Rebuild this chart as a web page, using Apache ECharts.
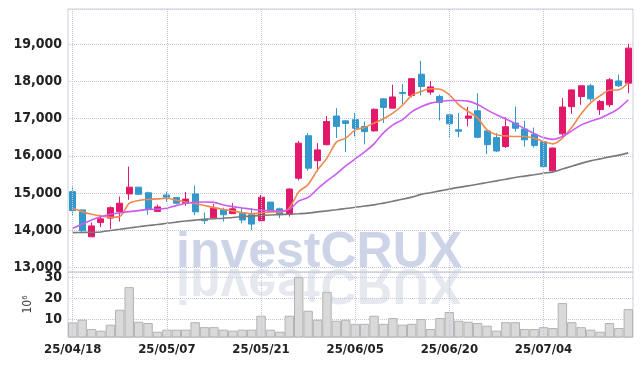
<!DOCTYPE html>
<html>
<head>
<meta charset="utf-8">
<script src="https://cdn.jsdelivr.net/npm/echarts@6/dist/echarts.min.js"></script>
<style>
html, body { margin: 0; padding: 0; background: #fff; }
#chart { width: 642px; height: 366px; }
</style>
</head>
<body>
<div id="chart"></div>
<script>
// trading days
const dates = [
  '25/04/18', '25/04/21', '25/04/22', '25/04/23', '25/04/24', '25/04/25', '25/04/28', '25/04/29', '25/04/30', '25/05/02',
  '25/05/07', '25/05/08', '25/05/09', '25/05/12', '25/05/13', '25/05/14', '25/05/15', '25/05/16', '25/05/19', '25/05/20',
  '25/05/21', '25/05/22', '25/05/23', '25/05/26', '25/05/27', '25/05/28', '25/05/29', '25/05/30', '25/06/02', '25/06/04',
  '25/06/05', '25/06/09', '25/06/10', '25/06/11', '25/06/12', '25/06/13', '25/06/16', '25/06/17', '25/06/18', '25/06/19',
  '25/06/20', '25/06/23', '25/06/24', '25/06/25', '25/06/26', '25/06/27', '25/06/30', '25/07/01', '25/07/02', '25/07/03',
  '25/07/04', '25/07/07', '25/07/08', '25/07/09', '25/07/10', '25/07/11', '25/07/14', '25/07/15', '25/07/16', '25/07/17'
]
const opens = [
  15040, 14550, 13830, 14210, 14330, 14500, 14980, 15160, 15010, 14510,
  14950, 14880, 14730, 14980, 14300, 14340, 14550, 14450, 14460, 14420,
  14260, 14760, 14580, 14430, 15400, 16540, 15870, 16300, 17070, 16940,
  16970, 16790, 16670, 17530, 17280, 17700, 17620, 18190, 17710, 17590,
  17100, 16700, 17010, 17210, 16670, 16490, 16250, 16880, 16720, 16580,
  16380, 15600, 16590, 17320, 17590, 17880, 17240, 17370, 18010, 17950
]
const closes = [
  14530, 13990, 14120, 14310, 14610, 14730, 15160, 14970, 14570, 14630,
  14890, 14730, 14840, 14500, 14260, 14600, 14420, 14580, 14280, 14170,
  14890, 14500, 14420, 15110, 16340, 15670, 16160, 16920, 16790, 16870,
  16740, 16650, 17250, 17300, 17580, 17670, 18070, 17860, 17850, 17430,
  16860, 16660, 17070, 16500, 16300, 16130, 16780, 16740, 16430, 16280,
  15710, 16210, 17310, 17770, 17880, 17530, 17460, 18040, 17880, 18890
]
const lows = [
  14400, 13920, 13820, 14090, 14040, 14240, 14820, 14950, 14420, 14510,
  14770, 14700, 14660, 14410, 14170, 14340, 14240, 14450, 14190, 14010,
  14250, 14500, 14330, 14370, 15340, 15600, 15580, 16280, 16480, 16100,
  16520, 16310, 16650, 16880, 17270, 17390, 17570, 17620, 17640, 16950,
  16500, 16500, 16790, 16470, 16050, 16100, 16210, 16650, 16250, 16220,
  15700, 15600, 16540, 17130, 17370, 17460, 17100, 17310, 17850, 17680
]
const highs = [
  15180, 14550, 14210, 14420, 14640, 14910, 15710, 15160, 15040, 14690,
  15040, 14890, 15030, 15200, 14480, 14710, 14610, 14730, 14600, 14600,
  14950, 14760, 14610, 15130, 16400, 16610, 16340, 17070, 17280, 16950,
  17150, 16920, 17270, 17540, 17910, 17930, 18090, 18550, 18010, 17640,
  17110, 17150, 17310, 17680, 16680, 16610, 17040, 17320, 16940, 16760,
  16390, 16220, 17550, 17780, 17890, 17930, 17500, 18090, 18180, 19010
]
// moving averages as drawn
const maShort = [
  14595, 14504, 14434, 14388, 14353, 14375, 14724, 14804, 14831, 14845,
  14864, 14810, 14764, 14724, 14670, 14611, 14563, 14522, 14477, 14450,
  14469, 14496, 14496, 14603, 15033, 15234, 15624, 15938, 16368, 16475,
  16698, 16760, 16878, 16994, 17147, 17351, 17619, 17727, 17799, 17786,
  17638, 17370, 17190, 17012, 16698, 16564, 16537, 16518, 16518, 16475,
  16384, 16322, 16475, 16765, 17128, 17423, 17611, 17759, 17772, 17969
]
const maMid = [
  14058, 14165, 14281, 14369, 14434, 14469, 14504, 14530, 14563, 14568,
  14595, 14665, 14729, 14756, 14764, 14751, 14684, 14638, 14603, 14568,
  14541, 14530, 14522, 14563, 14791, 14885, 15113, 15328, 15516, 15731,
  15919, 16107, 16322, 16617, 16832, 16967, 17182, 17316, 17415, 17458,
  17485, 17485, 17469, 17378, 17235, 17101, 16988, 16865, 16730, 16599,
  16489, 16443, 16518, 16671, 16832, 16926, 17012, 17128, 17276, 17504
]
const maLong = [
  13940, 13945, 13950, 13958, 13999, 14031, 14066, 14098, 14130, 14157,
  14192, 14222, 14251, 14275, 14297, 14313, 14326, 14348, 14367, 14388,
  14401, 14415, 14426, 14434, 14447, 14463, 14496, 14525, 14555, 14587,
  14619, 14654, 14684, 14732, 14783, 14834, 14893, 14966, 15011, 15060,
  15108, 15154, 15194, 15240, 15283, 15328, 15374, 15420, 15457, 15495,
  15535, 15570, 15645, 15723, 15798, 15865, 15919, 15973, 16019, 16080
]
// volume, millions of shares
const volume = [
  8.4, 9.7, 5.2, 4.4, 7.3, 14.5, 25.4, 8.7, 8.1, 3.9,
  4.9, 4.9, 4.9, 8.5, 6.1, 6.1, 4.9, 4.4, 4.9, 4.9,
  11.6, 4.9, 3.9, 11.6, 30.2, 14.0, 9.7, 23.1, 9.2, 9.7,
  7.7, 7.7, 11.6, 7.7, 10.5, 7.3, 7.7, 10.0, 5.2, 10.5,
  13.4, 9.2, 8.7, 8.1, 6.8, 4.4, 8.5, 8.5, 5.2, 5.2,
  6.1, 5.7, 17.7, 8.5, 6.1, 4.9, 3.9, 8.1, 5.7, 14.8
]

const candleData = opens.map((o, i) => [o, closes[i], lows[i], highs[i]])
const markDates = dates.filter((d, i) => i % 10 === 0)

const gridLine = { type: 'dotted', color: '#c3c7da', width: 1 }
const labelFont = '"Liberation Sans Narrow", "DejaVu Sans Condensed", "Roboto", sans-serif'
const markFont = 'bold 50px "Liberation Sans", Arial, sans-serif'
const vLines = {
  silent: true,
  symbol: 'none',
  label: { show: false },
  lineStyle: gridLine,
  data: markDates.map(d => ({ xAxis: d }))
}

const chart = echarts.init(document.getElementById('chart'))
chart.setOption({
  animation: false,
  backgroundColor: '#fff',
  graphic: {
    elements: [
      {
        type: 'text',
        x: 176,
        y: 268,
        z: -10,
        style: {
          text: 'investCRUX',
          x: 0,
          y: 10,
          font: markFont,
          fill: '#ced4e8',
          verticalAlign: 'bottom'
        }
      },
      {
        type: 'text',
        x: 176,
        y: 268,
        scaleY: -1,
        z: -10,
        style: {
          text: 'investCRUX',
          x: 0,
          y: 10,
          font: markFont,
          fill: '#e6e8ef',
          verticalAlign: 'bottom'
        }
      }
    ]
  },
  grid: [
    { left: 68, right: 9, top: 9, height: 263, show: true, borderColor: '#cfd1da', borderWidth: 1 },
    { left: 68, right: 9, top: 272, height: 65, show: true, borderColor: '#cfd1da', borderWidth: 1 }
  ],
  xAxis: [
    {
      type: 'category',
      gridIndex: 0,
      data: dates,
      axisLine: { show: false },
      axisTick: { show: false },
      axisLabel: { show: false },
      splitLine: { show: false }
    },
    {
      type: 'category',
      gridIndex: 1,
      data: dates,
      axisLine: { show: false },
      axisTick: { show: false },
      splitLine: { show: false },
      axisLabel: {
        interval: 9,
        margin: 6,
        color: '#222',
        fontSize: 13,
        fontWeight: 'bold',
        fontFamily: labelFont
      }
    }
  ],
  yAxis: [
    {
      type: 'value',
      gridIndex: 0,
      min: 12884,
      max: 19940,
      splitNumber: 7,
      axisLine: { show: false },
      axisTick: { show: false },
      splitLine: { show: true, lineStyle: gridLine },
      axisLabel: {
        showMinLabel: false,
        showMaxLabel: false,
        margin: 6,
        color: '#222',
        fontSize: 14,
        fontWeight: 'bold',
        fontFamily: labelFont,
        formatter: (val) => echarts.format.addCommas(val)
      }
    },
    {
      type: 'value',
      gridIndex: 1,
      min: 1.35,
      max: 32.7,
      splitNumber: 3,
      name: '10⁶',
      nameLocation: 'middle',
      nameRotate: 90,
      nameGap: 33,
      nameTextStyle: { color: '#444', fontSize: 12, fontFamily: labelFont },
      axisLine: { show: false },
      axisTick: { show: false },
      splitLine: { show: true, lineStyle: gridLine },
      axisLabel: {
        showMinLabel: false,
        showMaxLabel: false,
        margin: 6,
        color: '#222',
        fontSize: 14,
        fontWeight: 'bold',
        fontFamily: labelFont
      }
    }
  ],
  series: [
    {
      name: 'price',
      type: 'candlestick',
      xAxisIndex: 0,
      yAxisIndex: 0,
      data: candleData,
      barWidth: 6.5,
      itemStyle: {
        color: '#e2196b',
        color0: '#3398cc',
        borderColor: '#e2196b',
        borderColor0: '#3398cc',
        borderWidth: 1
      },
      markLine: vLines
    },
    {
      name: 'MA5',
      type: 'line',
      xAxisIndex: 0,
      yAxisIndex: 0,
      data: maShort,
      smooth: 0.3,
      showSymbol: false,
      lineStyle: { color: '#f0894d', width: 1.6 }
    },
    {
      name: 'MA10',
      type: 'line',
      xAxisIndex: 0,
      yAxisIndex: 0,
      data: maMid,
      smooth: 0.3,
      showSymbol: false,
      lineStyle: { color: '#cc5cf0', width: 1.6 }
    },
    {
      name: 'MA60',
      type: 'line',
      xAxisIndex: 0,
      yAxisIndex: 0,
      data: maLong,
      smooth: 0.3,
      showSymbol: false,
      lineStyle: { color: '#7a7a7a', width: 1.6 }
    },
    {
      name: 'volume',
      type: 'bar',
      xAxisIndex: 1,
      yAxisIndex: 1,
      data: volume,
      barWidth: '100%',
      itemStyle: { color: '#d9d9d9', borderColor: '#b3b3b3', borderWidth: 1 },
      markLine: vLines
    }
  ]
})
</script>
</body>
</html>
